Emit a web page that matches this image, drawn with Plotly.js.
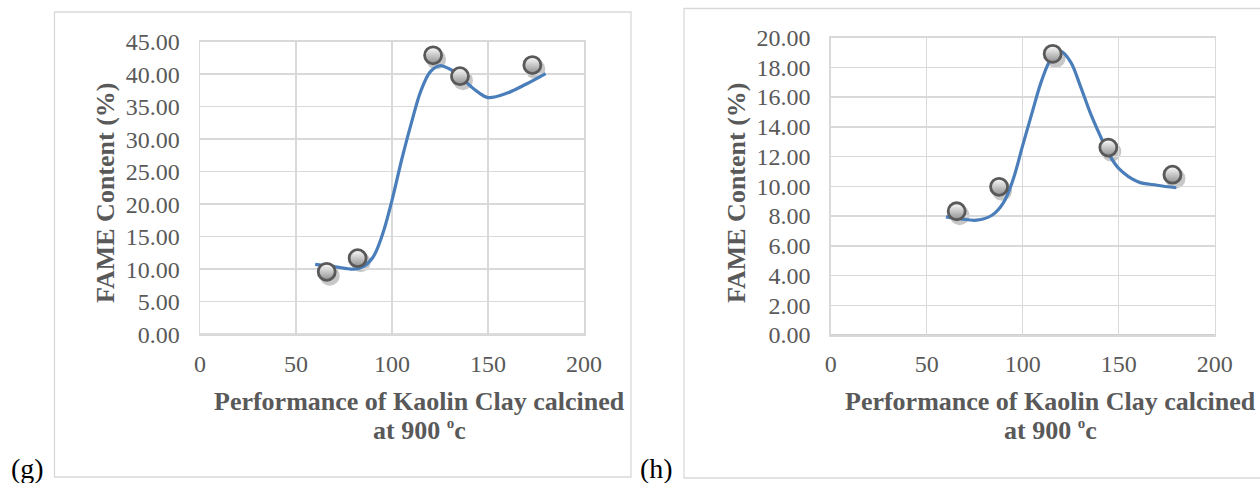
<!DOCTYPE html>
<html><head><meta charset="utf-8">
<script src="https://cdn.plot.ly/plotly-3.0.1.min.js"></script>
<style>html,body{margin:0;padding:0;background:#fff}#chart{width:1260px;height:483px}</style>
</head><body><div id="chart"></div>
<script>
// ---- data ----
const xTickVals = [0, 50, 100, 150, 200];
const gYTickVals = [0, 5, 10, 15, 20, 25, 30, 35, 40, 45];
const hYTickVals = [0, 2, 4, 6, 8, 10, 12, 14, 16, 18, 20];

// (g) measured points
const gPointX = [66.0, 82.1, 121.4, 135.4, 173.1];
const gPointY = [9.6, 11.7, 42.9, 39.7, 41.4];
// (g) smoothed curve
const gCurveX = [60, 70, 80, 85, 90, 95, 100, 105, 110, 115, 120, 125, 130, 135, 140, 145, 150, 160, 170, 180];
const gCurveY = [10.75, 10.4, 10.0, 10.4, 11.8, 15.3, 20.6, 26.8, 32.4, 37.4, 40.4, 41.3, 40.8, 39.9, 38.4, 37.2, 36.4, 37.1, 38.5, 40.1];

// (h) measured points
const hPointX = [65.6, 87.7, 115.6, 144.6, 178.0];
const hPointY = [8.32, 9.96, 18.9, 12.6, 10.78];
// (h) smoothed curve
const hCurveX = [60, 68, 76, 84, 90, 95, 100, 105, 110, 115, 120, 125, 130, 135, 140, 145, 150, 160, 170, 180];
const hCurveY = [7.94, 7.8, 7.72, 8.05, 8.9, 10.45, 12.75, 15.0, 17.15, 18.6, 19.05, 18.35, 16.75, 15.0, 13.5, 12.15, 11.2, 10.3, 10.07, 9.9];

const yTitle = 'FAME Content (%)';
const xTitle1 = 'Performance of Kaolin Clay calcined';
const xTitle2 = 'at 900 <sup><span style="font-size:15px">o</span></sup>c';
const panelLabels = ['(g)', '(h)'];

// ---- layout helpers ----
const W = 1260, H = 483;
const fx = px => px / W;
const fy = py => 1 - py / H;
const FONT = 'Liberation Serif';
const GRAY = '#595959';
const GRID = '#d9d9d9';
const AXIS = '#bfbfbf';
const LINE = '#4a7ebb';
const SDX = 3, SDY = 4;

const panels = [
  {box: [54.5, 12, 631, 477], plot: [200, 584, 41.7, 334.2], yr: [0, 45], yt: gYTickVals,
   px: gPointX, py: gPointY, cx: gCurveX, cy: gCurveY,
   yTitleX: 105, yTitleY: 193, xTitleX: 419.5, label: [27, 468]},
  {box: [684, 8.5, 1264, 478], plot: [830.7, 1214.7, 37.5, 335], yr: [0, 20], yt: hYTickVals,
   px: hPointX, py: hPointY, cx: hCurveX, cy: hCurveY,
   yTitleX: 736, yTitleY: 193, xTitleX: 1050, label: [656, 468]}
];

const data = [];
const layout = {
  width: W, height: H, margin: {l: 0, r: 0, t: 0, b: 0},
  paper_bgcolor: '#ffffff', plot_bgcolor: 'rgba(0,0,0,0)',
  showlegend: false, shapes: [], annotations: []
};

panels.forEach((p, i) => {
  const base = i * 2;
  const ids = [base + 1, base + 2].map(n => n === 1 ? '' : String(n));
  const [l, r, t, b] = p.plot;
  const xd = [fx(l), fx(r)], yd = [fy(b), fy(t)];
  const xds = [fx(l + SDX), fx(r + SDX)], yds = [fy(b + SDY), fy(t + SDY)];

  // shadow axes (offset a few pixels down-right), hidden
  layout['xaxis' + ids[0]] = {domain: xds, range: [0, 200], visible: false, anchor: 'y' + ids[0], fixedrange: true};
  layout['yaxis' + ids[0]] = {domain: yds, range: p.yr, visible: false, anchor: 'x' + ids[0], fixedrange: true};
  // visible data axes with grid
  layout['xaxis' + ids[1]] = {
    domain: xd, range: [0, 200], tickmode: 'array', tickvals: xTickVals,
    showgrid: true, gridcolor: GRID, gridwidth: 1.5, zeroline: false,
    showline: true, mirror: true, linecolor: GRID, linewidth: 1.5,
    ticks: 'outside', ticklen: 7, tickcolor: 'rgba(0,0,0,0)',
    tickfont: {family: FONT, size: 24, color: GRAY}, anchor: 'y' + ids[1], fixedrange: true
  };
  layout['yaxis' + ids[1]] = {
    domain: yd, range: p.yr, tickmode: 'array', tickvals: p.yt, tickformat: '.2f',
    showgrid: true, gridcolor: GRID, gridwidth: 1.5, zeroline: false,
    showline: true, mirror: true, linecolor: GRID, linewidth: 1.5,
    ticks: 'outside', ticklen: 14, tickcolor: 'rgba(0,0,0,0)',
    tickfont: {family: FONT, size: 24, color: GRAY}, anchor: 'x' + ids[1], fixedrange: true
  };

  data.push({
    type: 'scatter', mode: 'markers', x: p.px, y: p.py,
    xaxis: 'x' + ids[0], yaxis: 'y' + ids[0], cliponaxis: false, hoverinfo: 'skip',
    marker: {size: 20, color: 'rgba(80,80,80,0.32)', line: {width: 0}}
  });
  data.push({
    type: 'scatter', mode: 'lines', x: p.cx, y: p.cy,
    xaxis: 'x' + ids[1], yaxis: 'y' + ids[1], cliponaxis: false,
    line: {color: LINE, width: 3.2, shape: 'spline', smoothing: 1}
  });
  data.push({
    type: 'scatter', mode: 'markers', x: p.px, y: p.py,
    xaxis: 'x' + ids[1], yaxis: 'y' + ids[1], cliponaxis: false,
    marker: {size: 17, color: '#ffffff', gradient: {type: 'vertical', color: '#8f8f8f'},
             line: {width: 2.8, color: GRAY}}
  });

  // darker horizontal axis line at y = 0
  layout.shapes.push({type: 'line', xref: 'x' + ids[1] + ' domain', yref: 'y' + ids[1] + ' domain',
    x0: 0, x1: 1, y0: 0, y1: 0, line: {color: AXIS, width: 1.6}, layer: 'below'});

  const [bl, bt, br, bb] = p.box;
  layout.shapes.push({type: 'rect', xref: 'paper', yref: 'paper',
    x0: fx(bl), x1: fx(br), y0: fy(bb), y1: fy(bt), line: {color: GRID, width: 1.3}, layer: 'below'});

  layout.annotations.push({
    xref: 'paper', yref: 'paper', x: fx(p.yTitleX), y: fy(p.yTitleY), textangle: -90,
    text: '<b>' + yTitle + '</b>', showarrow: false, xanchor: 'center', yanchor: 'middle',
    font: {family: FONT, size: 26, color: GRAY}
  });
  layout.annotations.push({
    xref: 'paper', yref: 'paper', x: fx(p.xTitleX), y: fy(401), text: '<b>' + xTitle1 + '</b>',
    showarrow: false, xanchor: 'center', yanchor: 'middle', font: {family: FONT, size: 26, color: GRAY}
  });
  layout.annotations.push({
    xref: 'paper', yref: 'paper', x: fx(p.xTitleX), y: fy(430), text: '<b>' + xTitle2 + '</b>',
    showarrow: false, xanchor: 'center', yanchor: 'middle', font: {family: FONT, size: 26, color: GRAY}
  });
  layout.annotations.push({
    xref: 'paper', yref: 'paper', x: fx(p.label[0]), y: fy(p.label[1]), text: panelLabels[i],
    showarrow: false, xanchor: 'center', yanchor: 'middle', font: {family: FONT, size: 28, color: '#000000'}
  });
});

Plotly.newPlot('chart', data, layout, {staticPlot: true, displayModeBar: false});
</script>
</body></html>
